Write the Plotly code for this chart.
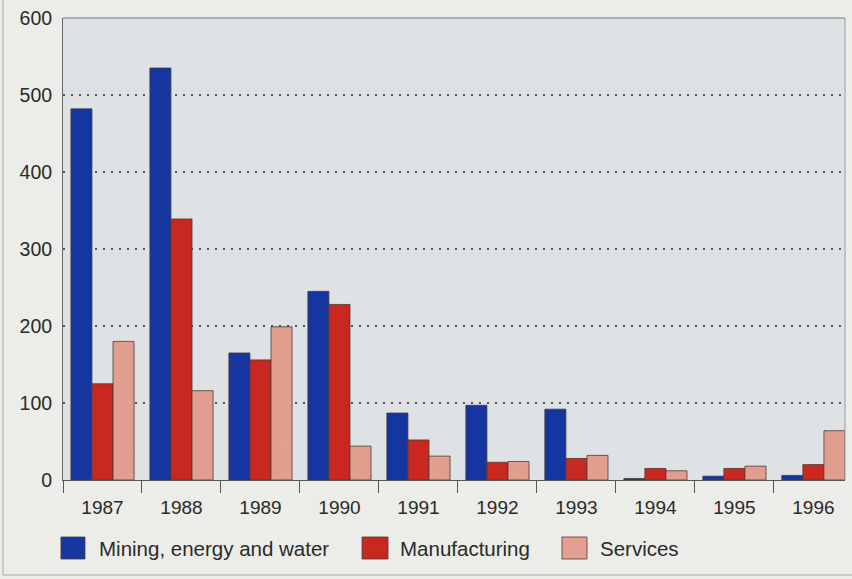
import plotly.graph_objects as go

years = ["1987", "1988", "1989", "1990", "1991", "1992", "1993", "1994", "1995", "1996"]
mining = [482, 535, 165, 245, 87, 97, 92, 2, 5, 6]
manufacturing = [125, 339, 156, 228, 52, 23, 28, 15, 15, 20]
services = [180, 116, 199, 44, 31, 24, 32, 12, 18, 64]
y_ticks = [0, 100, 200, 300, 400, 500, 600]

names = ["Mining, energy and water", "Manufacturing", "Services"]
colors = ["#1535a0", "#c8281f", "#e3a090"]
series = [mining, manufacturing, services]

fig = go.Figure()
for name, vals, col in zip(names, series, colors):
    marker = dict(color=col, line=dict(color="#4a3a3a", width=0.8))
    if name == "Services":
        marker["pattern"] = dict(shape="x", size=3, solidity=0.15, fgcolor="#c98477")
    fig.add_trace(go.Bar(x=years, y=vals, name=name, marker=marker, showlegend=False))

# manual legend (paper coordinates)
leg_sq_x = [(-0.0026, 0.0281), (0.3824, 0.4156), (0.6381, 0.6701)]
leg_txt_x = [0.0435, 0.4284, 0.6841]
leg_y0, leg_y1, leg_yc = -0.171, -0.1234, -0.1472

shapes = [
    dict(type="line", xref="paper", yref="paper", x0=0, x1=1, y0=1, y1=1,
         line=dict(color="#777", width=1)),
    dict(type="line", xref="paper", yref="paper", x0=1, x1=1, y0=0, y1=1,
         line=dict(color="#999", width=1)),
    dict(type="line", xref="paper", yref="paper", x0=-0.0767, x1=-0.0767, y0=-0.2056, y1=1.04,
         line=dict(color="#aaa", width=1)),
    dict(type="line", xref="paper", yref="paper", x0=-0.0767, x1=1.01, y0=-0.2056, y1=-0.2056,
         line=dict(color="#aaa", width=1)),
]
annotations = []
for name, col, (sx0, sx1), tx in zip(names, colors, leg_sq_x, leg_txt_x):
    shapes.append(dict(type="rect", xref="paper", yref="paper", x0=sx0, x1=sx1,
                       y0=leg_y0, y1=leg_y1, fillcolor=col,
                       line=dict(color="#4a3a3a", width=0.8)))
    annotations.append(dict(xref="paper", yref="paper", x=tx, y=leg_yc, text=name,
                            showarrow=False, xanchor="left", yanchor="middle",
                            font=dict(size=20.5, color="#2a2a2a")))

font_family = "Liberation Sans, Arial, sans-serif"
fig.update_layout(
    width=852, height=579,
    margin=dict(l=63, r=7, t=18, b=99),
    paper_bgcolor="#ecece8",
    plot_bgcolor="#dfe2e4",
    barmode="group",
    bargap=0.2,
    bargroupgap=0,
    showlegend=False,
    font=dict(family=font_family, size=19, color="#2a2a2a"),
    xaxis=dict(
        type="category", range=[-0.5, 9.4], tickson="boundaries",
        ticks="outside", ticklen=12, tickcolor="#555", tickwidth=1,
        showline=True, linecolor="#555", linewidth=1, mirror=False,
        showgrid=False, tickfont=dict(size=19), ticklabelstandoff=10,
    ),
    yaxis=dict(
        range=[0, 600], tickvals=y_ticks, showgrid=True,
        gridcolor="#555", griddash="1.5px,6.5px", gridwidth=1.5,
        showline=True, linecolor="#666", linewidth=1,
        ticks="", zeroline=False, tickfont=dict(size=19.5),
        ticklabelstandoff=6,
    ),
    shapes=shapes,
    annotations=annotations,
)

fig.write_html("out.html", config={"displayModeBar": False},
               post_script="document.body.style.margin='0';document.body.style.overflow='hidden';")
